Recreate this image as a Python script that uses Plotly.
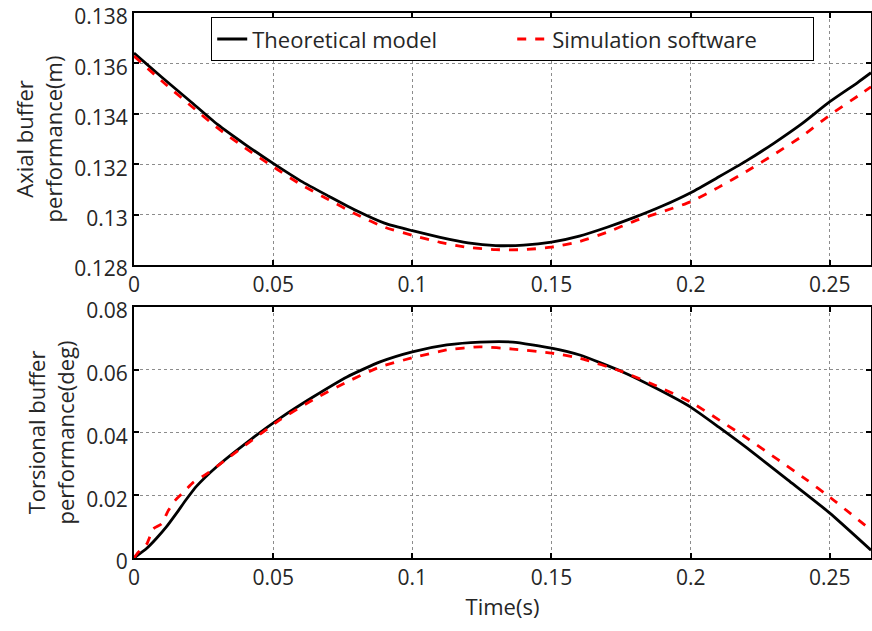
import plotly.graph_objects as go

# ---------------- data ----------------
t_axial = [0, 0.01, 0.02, 0.03, 0.04, 0.05, 0.06, 0.07, 0.08, 0.09, 0.10,
           0.11, 0.12, 0.13, 0.14, 0.15, 0.16, 0.17, 0.18, 0.19, 0.20,
           0.21, 0.22, 0.23, 0.24, 0.25, 0.26, 0.2648]
axial_theory = [0.13641, 0.13545, 0.13452, 0.13358, 0.13278, 0.13203, 0.13133,
                0.13073, 0.13015, 0.12966, 0.12936, 0.12910, 0.12888, 0.12877,
                0.12879, 0.12891, 0.12915, 0.12950, 0.12990, 0.13035, 0.13087,
                0.13149, 0.13213, 0.13284, 0.13361, 0.13448, 0.13524, 0.13563]
axial_sim = [0.13629, 0.13530, 0.13436, 0.13344, 0.13264, 0.13190, 0.13119,
             0.13059, 0.13000, 0.12950, 0.12918, 0.12890, 0.12870, 0.12861,
             0.12861, 0.12871, 0.12893, 0.12930, 0.12975, 0.13012, 0.13051,
             0.13108, 0.13171, 0.13239, 0.13311, 0.13395, 0.13470, 0.13507]

t_tors_theory = [0, 0.0046, 0.0081, 0.0117, 0.0153, 0.0189, 0.0225, 0.0297, 0.0417,
                 0.0524, 0.0643, 0.0765, 0.0884, 0.100, 0.1124, 0.1243, 0.1361,
                 0.150, 0.1602, 0.1756, 0.1878, 0.200, 0.210, 0.2202, 0.235,
                 0.250, 0.2648]
tors_theory = [0.0, 0.0031, 0.0063, 0.0100, 0.0143, 0.0188, 0.0229, 0.0291, 0.0376,
               0.0445, 0.0513, 0.0577, 0.0625, 0.0657, 0.0679, 0.0688, 0.0688,
               0.0669, 0.0647, 0.0593, 0.0540, 0.0481, 0.0418, 0.0351, 0.0248,
               0.0143, 0.0025]

t_tors_sim = [0, 0.0012, 0.0046, 0.0069, 0.0099, 0.0123, 0.0147, 0.0177, 0.0213,
              0.0261, 0.0297, 0.0345, 0.0524, 0.0643, 0.0765, 0.0884, 0.100,
              0.1124, 0.1243, 0.1361, 0.150, 0.1602, 0.1756, 0.1878, 0.200,
              0.2202, 0.2417, 0.250, 0.2648]
tors_sim = [0.0, 0.0015, 0.0045, 0.0093, 0.0109, 0.0151, 0.0183, 0.0209, 0.0241,
            0.0268, 0.0291, 0.0323, 0.0440, 0.0504, 0.0561, 0.0609, 0.0638,
            0.0663, 0.0673, 0.0666, 0.0653, 0.0637, 0.0593, 0.0548, 0.0497,
            0.0382, 0.0249, 0.0194, 0.0089]

x_tickvals = [0, 0.05, 0.10, 0.15, 0.20, 0.25]
x_ticktext = ["0", "0.05", "0.1", "0.15", "0.2", "0.25"]
y1_tickvals = [0.128, 0.130, 0.132, 0.134, 0.136, 0.138]
y1_ticktext = ["0.128", "0.13", "0.132", "0.134", "0.136", "0.138"]
y2_tickvals = [0, 0.02, 0.04, 0.06, 0.08]
y2_ticktext = ["0", "0.02", "0.04", "0.06", "0.08"]

FONT = "Open Sans, Noto Sans, sans-serif"
TXT = "#262626"
FS = 22
FS_TICK = 21

fig = go.Figure()
fig.add_trace(go.Scatter(x=t_axial, y=axial_theory, mode="lines", name="Theoretical model",
                         line=dict(color="black", width=2.8, shape="spline", smoothing=0.6),
                         xaxis="x", yaxis="y"))
fig.add_trace(go.Scatter(x=t_axial, y=axial_sim, mode="lines", name="Simulation software",
                         line=dict(color="#ff0000", width=2.8, dash="dash", shape="spline",
                                   smoothing=0.6),
                         xaxis="x", yaxis="y"))
fig.add_trace(go.Scatter(x=t_tors_theory, y=tors_theory, mode="lines", showlegend=False,
                         line=dict(color="black", width=2.8, shape="spline", smoothing=0.5),
                         xaxis="x2", yaxis="y2"))
fig.add_trace(go.Scatter(x=t_tors_sim, y=tors_sim, mode="lines", showlegend=False,
                         line=dict(color="#ff0000", width=2.8, dash="dash", shape="spline",
                                   smoothing=0.5),
                         xaxis="x2", yaxis="y2"))

axis_common = dict(
    showline=True, linecolor="black", linewidth=2, mirror="allticks",
    ticks="inside", ticklen=5, tickcolor="black", tickwidth=1.5,
    showgrid=True, gridcolor="#8c8c8c", gridwidth=1, griddash="dot",
    zeroline=False, automargin=False, ticklabeloverflow="allow",
    tickfont=dict(family=FONT, size=FS_TICK, color=TXT),
)
title_font = dict(family=FONT, size=FS, color=TXT)

fig.update_layout(
    width=872, height=631,
    margin=dict(l=134, r=1, t=13, b=73),
    paper_bgcolor="white", plot_bgcolor="white",
    font=dict(family=FONT, size=FS, color=TXT),
    xaxis=dict(domain=[0, 1], range=[0, 0.2648], tickvals=x_tickvals, ticktext=x_ticktext,
               anchor="y", **axis_common),
    yaxis=dict(domain=[0.5376, 1], range=[0.128, 0.138], tickvals=y1_tickvals,
               ticktext=y1_ticktext, anchor="x", ticklabelshift=4,
               title=dict(text="Axial buffer<br>performance(m)", standoff=6, font=title_font),
               **axis_common),
    xaxis2=dict(domain=[0, 1], range=[0, 0.2648], tickvals=x_tickvals, ticktext=x_ticktext,
                anchor="y2",
                title=dict(text="Time(s)", standoff=2, font=title_font),
                **axis_common),
    yaxis2=dict(domain=[0, 0.4606], range=[0, 0.08], tickvals=y2_tickvals,
                ticktext=y2_ticktext, anchor="x2", ticklabelshift=4,
                title=dict(text="Torsional buffer<br>performance(deg)", standoff=6,
                           font=title_font),
                **axis_common),
    legend=dict(orientation="h", x=0.1045, y=0.9927, xanchor="left", yanchor="top",
                bgcolor="white", bordercolor="black", borderwidth=1.2,
                entrywidth=255, entrywidthmode="pixels",
                font=dict(family=FONT, size=FS, color=TXT)),
    showlegend=True,
)

# remove the default 8px page margin so the figure fills the window exactly
fig.write_html("out.html", config={"displayModeBar": False},
               post_script="document.body.style.margin='0';document.body.style.overflow='hidden';")
